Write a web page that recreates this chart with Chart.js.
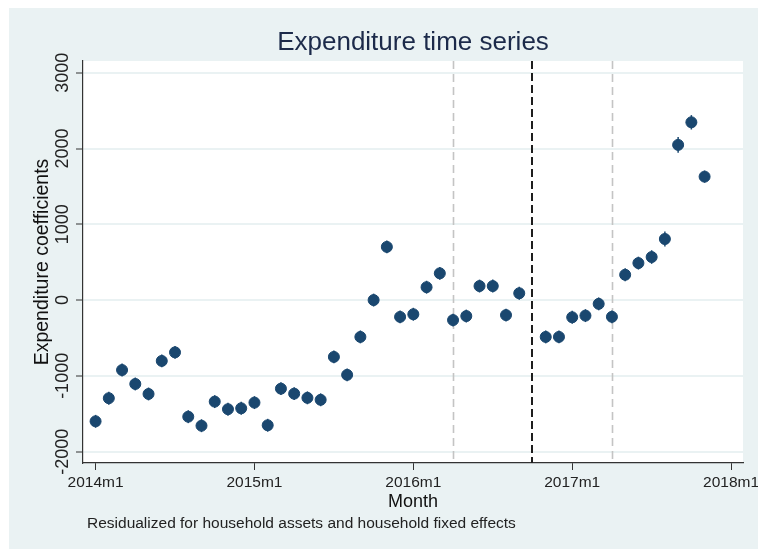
<!DOCTYPE html>
<html>
<head>
<meta charset="utf-8">
<title>Expenditure time series</title>
<script src="https://cdn.jsdelivr.net/npm/chart.js@4.4.1/dist/chart.umd.min.js"></script>
<style>
    html, body { margin: 0; padding: 0; background: #ffffff; }
    canvas { display: block; }
</style>
</head>
<body>
<canvas id="expChart" width="758" height="550"></canvas>
<script>
// months since 2014m1 (2016m10 has no estimate)
const months = [
    0, 1, 2, 3, 4, 5, 6, 7, 8, 9, 10, 11,
    12, 13, 14, 15, 16, 17, 18, 19, 20, 21, 22, 23,
    24, 25, 26, 27, 28, 29, 30, 31, 32, 34, 35,
    36, 37, 38, 39, 40, 41, 42, 43, 44, 45, 46
];
const coefs = [
    -1600, -1295, -923, -1107, -1239, -803, -690, -1539, -1658, -1340, -1440, -1428,
    -1353, -1652, -1169, -1235, -1290, -1316, -750, -987, -486, 0, 702, -222,
    -187, 170, 353, -264, -211, 185, 185, -198, 90, -486, -486,
    -227, -205, -50, -221, 334, 488, 568, 806, 2048, 2346, 1629
];
// half width of the confidence band
const ciHalf = [
    85, 85, 85, 85, 85, 85, 85, 85, 85, 85, 85, 85,
    85, 85, 85, 85, 85, 85, 85, 85, 85, 85, 85, 85,
    85, 85, 85, 85, 85, 85, 85, 85, 85, 85, 85,
    85, 85, 85, 85, 85, 85, 90, 100, 105, 95, 80
];

const xTickMonths = [0, 12, 24, 36, 48];
const xTickLabels = ["2014m1", "2015m1", "2016m1", "2017m1", "2018m1"];
const yTicks = [-2000, -1000, 0, 1000, 2000, 3000];

// policy dates: 2016m4, 2016m10, 2017m4
const greyLines = [27, 39];
const blackLines = [33];

const navy = "#1a476f";
const stataBg = "#eaf2f3";
const font = "'Liberation Sans', Arial, Helvetica, sans-serif";

const backdrop = {
    id: "backdrop",
    beforeDraw(chart) {
        const { ctx, chartArea: a } = chart;
        ctx.save();
        ctx.fillStyle = "#ffffff";
        ctx.fillRect(0, 0, chart.width, chart.height);
        ctx.fillStyle = stataBg;
        ctx.fillRect(9, 8, chart.width - 9, chart.height - 9);
        ctx.fillStyle = "#ffffff";
        ctx.fillRect(a.left, a.top, a.right - a.left, a.bottom - a.top);
        ctx.restore();
    }
};

const markers = {
    id: "markers",
    beforeDatasetsDraw(chart) {
        const { ctx, chartArea: a, scales: { x, y } } = chart;
        ctx.save();
        ctx.lineWidth = 1.6;
        ctx.setLineDash([8, 5]);
        ctx.strokeStyle = "#c4c4c4";
        for (const m of greyLines) {
            const px = Math.round(x.getPixelForValue(m)) + 0.5;
            ctx.beginPath(); ctx.moveTo(px, a.top); ctx.lineTo(px, a.bottom); ctx.stroke();
        }
        ctx.lineWidth = 2;
        ctx.setLineDash([8, 4]);
        ctx.strokeStyle = "#1e1e1e";
        for (const m of blackLines) {
            const px = Math.round(x.getPixelForValue(m));
            ctx.beginPath(); ctx.moveTo(px, a.top); ctx.lineTo(px, a.bottom); ctx.stroke();
        }
        // error bars
        ctx.setLineDash([]);
        ctx.strokeStyle = navy;
        ctx.lineWidth = 1.5;
        months.forEach((m, i) => {
            const px = x.getPixelForValue(m);
            ctx.beginPath();
            ctx.moveTo(px, y.getPixelForValue(coefs[i] - ciHalf[i]));
            ctx.lineTo(px, y.getPixelForValue(coefs[i] + ciHalf[i]));
            ctx.stroke();
        });
        ctx.restore();
    },
    afterDraw(chart) {
        const { ctx } = chart;
        ctx.save();
        ctx.fillStyle = "#222222";
        ctx.font = "15.5px " + font;
        ctx.textAlign = "left";
        ctx.textBaseline = "middle";
        ctx.fillText("Residualized for household assets and household fixed effects", 87, 524);
        ctx.restore();
    }
};

new Chart(document.getElementById("expChart"), {
    type: "scatter",
    data: {
        datasets: [{
            label: "Expenditure coefficients",
            data: months.map((m, i) => ({ x: m, y: coefs[i] })),
            backgroundColor: navy,
            borderColor: navy,
            borderWidth: 1,
            pointRadius: 5.5,
            pointHoverRadius: 5.5
        }]
    },
    options: {
        responsive: false,
        animation: false,
        devicePixelRatio: 1,
        layout: { padding: { left: 9, right: 15, top: 8, bottom: 0 } },
        plugins: {
            legend: { display: false },
            tooltip: { enabled: false },
            title: {
                display: true,
                fullSize: false,
                text: "Expenditure time series",
                color: "#1c2a4a",
                font: { family: font, size: 26, weight: "normal" },
                padding: { top: 19, bottom: 2.8 }
            }
        },
        scales: {
            x: {
                type: "linear",
                min: -0.95,
                max: 48.9,
                afterBuildTicks: s => { s.ticks = xTickMonths.map(v => ({ value: v })); },
                afterFit: s => {
                    s.height = 87;
                    s.paddingLeft = 0;
                    s.paddingRight = 0;
                },
                ticks: {
                    autoSkip: false,
                    maxRotation: 0,
                    padding: 3,
                    color: "#222222",
                    font: { family: font, size: 15.5 },
                    callback: v => xTickLabels[xTickMonths.indexOf(v)]
                },
                grid: {
                    drawOnChartArea: false,
                    drawTicks: true,
                    tickLength: 7,
                    tickColor: "#333333",
                    tickWidth: 1
                },
                border: { color: "#333333", width: 1.2 },
                title: {
                    display: true,
                    text: "Month",
                    color: "#111111",
                    font: { family: font, size: 18 },
                    padding: { top: 0, bottom: 37.2 }
                }
            },
            y: {
                min: -2150,
                max: 3155,
                afterBuildTicks: s => { s.ticks = yTicks.map(v => ({ value: v })); },
                afterFit: s => {
                    s.width = 74;
                    s.paddingTop = 0;
                    s.paddingBottom = 0;
                },
                ticks: {
                    minRotation: 90,
                    maxRotation: 90,
                    crossAlign: "center",
                    padding: -10.5,
                    color: "#222222",
                    font: { family: font, size: 18 },
                    callback: v => String(v)
                },
                grid: {
                    color: stataBg,
                    lineWidth: 2,
                    tickLength: 7,
                    tickColor: "#333333",
                    tickWidth: 1
                },
                border: { color: "#333333", width: 1.2 },
                title: {
                    display: true,
                    text: "Expenditure coefficients",
                    color: "#111111",
                    font: { family: font, size: 19.5 },
                    padding: { top: 21.5, bottom: 0 }
                }
            }
        }
    },
    plugins: [backdrop, markers]
});
</script>
</body>
</html>
